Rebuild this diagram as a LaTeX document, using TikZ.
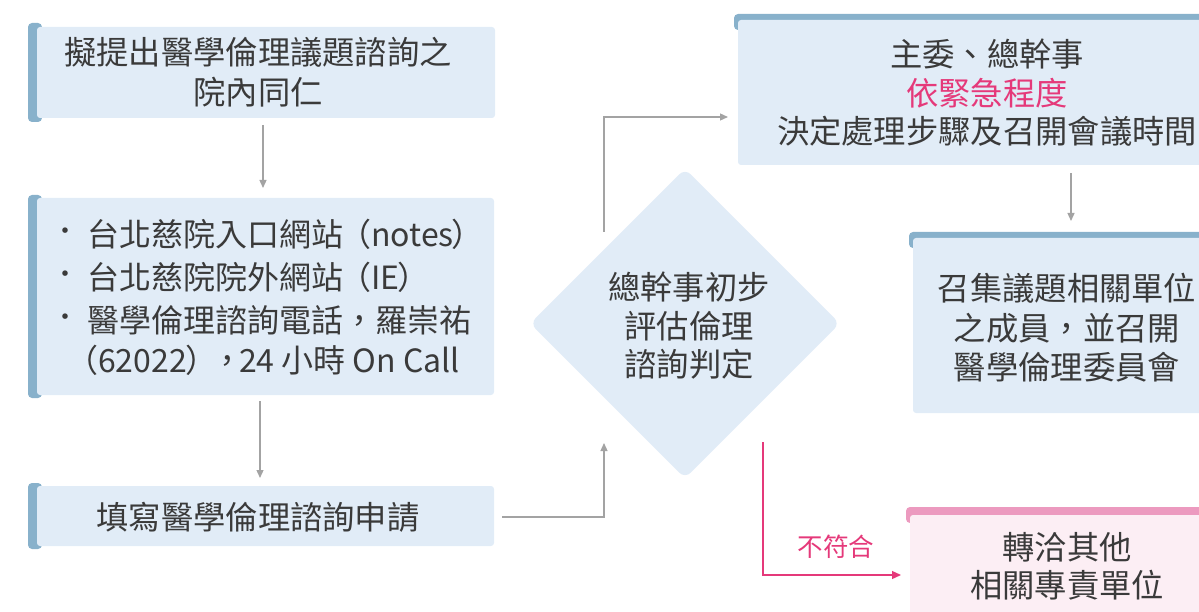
\documentclass[tikz,border=0pt]{standalone}
\usepackage{fontspec}
\setmainfont{Noto Sans CJK TC}
\usetikzlibrary{shapes.geometric,arrows.meta}
\definecolor{boxfill}{HTML}{E1ECF7}
\definecolor{barblue}{HTML}{88B1CB}
\definecolor{pinkbar}{HTML}{EC9ABF}
\definecolor{pinkfill}{HTML}{FCEEF4}
\definecolor{pinktext}{HTML}{E5397A}
\definecolor{linegray}{HTML}{A3A3A3}
\definecolor{txt}{HTML}{3A3A3A}
\begin{document}
\begin{tikzpicture}[x=1pt,y=-1pt,
  box/.style={fill=boxfill, rounded corners=3pt, inner sep=0pt, draw=none},
  pbox/.style={fill=pinkfill, rounded corners=3pt, inner sep=0pt, draw=none},
  lbl/.style={text=txt, inner sep=0pt, align=center, font=\fontsize{32.3}{40}\selectfont},
  lline/.style={text=txt, inner sep=0pt, anchor=west, font=\fontsize{32}{40}\selectfont},
  arr/.style={draw=linegray, line width=1.3pt, -{Triangle[length=8pt,width=7pt]}},
  parr/.style={draw=pinktext, line width=1.3pt, -{Triangle[length=9pt,width=8pt]}}]
\useasboundingbox (0,0) rectangle (1199,612);
\clip (0,0) rectangle (1199,612);

% left column boxes
\fill[barblue, rounded corners=4pt] (28,23) rectangle (42,122);
\node[box, minimum width=458, minimum height=91] (b1) at (266,72.5) {};
\fill[barblue, rounded corners=4pt] (28,195) rectangle (42,398);
\node[box, minimum width=457, minimum height=197] (b2) at (265.5,296.5) {};
\fill[barblue, rounded corners=4pt] (28,483) rectangle (42,549);
\node[box, minimum width=457, minimum height=60] (b3) at (265.5,516) {};

% right column boxes
\fill[barblue, rounded corners=4pt] (734,14) rectangle (1215,30);
\node[box, minimum width=477, minimum height=145] (b4) at (976.5,92.5) {};
\fill[barblue, rounded corners=4pt] (909,232) rectangle (1215,248);
\node[box, minimum width=302, minimum height=175] (b5) at (1064,325.5) {};
\fill[pinkbar, rounded corners=4pt] (906,507) rectangle (1215,523);
\node[pbox, minimum width=305, minimum height=105] (b6) at (1062.5,567.5) {};

% diamond
\node[diamond, aspect=1, fill=boxfill, minimum width=310, minimum height=310, inner sep=0pt, rounded corners=8pt] (d) at (685,323.5) {};

% texts
\node[lbl] (t1) at (258,72.5) {擬提出醫學倫理議題諮詢之\\院內同仁};
\node[lbl, font=\fontsize{26}{28}\selectfont] (u1) at (65,234) {•};
\node[lbl, font=\fontsize{26}{28}\selectfont] (u2) at (65,277) {•};
\node[lbl, font=\fontsize{26}{28}\selectfont] (u3) at (65,320) {•};
\node[lline] (l1) at (87,234) {台北慈院入口網站\kern-4pt（notes\kern-2pt）};
\node[lline] (l2) at (87,277) {台北慈院院外網站\kern-4pt（IE\kern-2pt）};
\node[lline] (l3) at (87,320) {醫學倫理諮詢電話，羅崇祐};
\node[lline] (l4) at (66,360) {（62022\kern-2pt）\kern-6pt，\kern-4pt24 小時 On Call};
\node[lbl] (t3) at (258,517) {填寫醫學倫理諮詢申請};
\node[lbl, font=\fontsize{32.3}{38.5}\selectfont] (td) at (689,326) {總幹事初步\\評估倫理\\諮詢判定};
\node[lbl, font=\fontsize{32.3}{38.5}\selectfont] (t4) at (987,93) {主委、總幹事\\\textcolor{pinktext}{依緊急程度}\\決定處理步驟及召開會議時間};
\node[lbl, font=\fontsize{32.3}{39.5}\selectfont] (t5) at (1067,328) {召集議題相關單位\\之成員，並召開\\醫學倫理委員會};
\node[lbl, font=\fontsize{32.3}{38}\selectfont] (t6) at (1067,566) {轉洽其他\\相關專責單位};
\node[lbl, text=pinktext, font=\fontsize{25.5}{28}\selectfont] (np) at (836,547) {不符合};

% connectors
\coordinate (a1s) at (263,125);
\coordinate (a1e) at (263,188);
\draw[arr] (a1s) -- (a1e);
\coordinate (a2s) at (260,401);
\coordinate (a2e) at (260,478);
\draw[arr] (a2s) -- (a2e);
\coordinate (c0) at (502,517);
\coordinate (c1) at (604,443);
\draw[arr] (c0) -| (c1);
\coordinate (c2) at (604,232);
\coordinate (c3) at (728,117);
\draw[arr] (c2) |- (c3);
\coordinate (k1) at (1071,173);
\coordinate (k2) at (1071,221);
\draw[arr] (k1) -- (k2);
\coordinate (p1) at (763,442);
\coordinate (p2) at (901,575);
\draw[parr] (p1) |- (p2);
\end{tikzpicture}
\end{document}
